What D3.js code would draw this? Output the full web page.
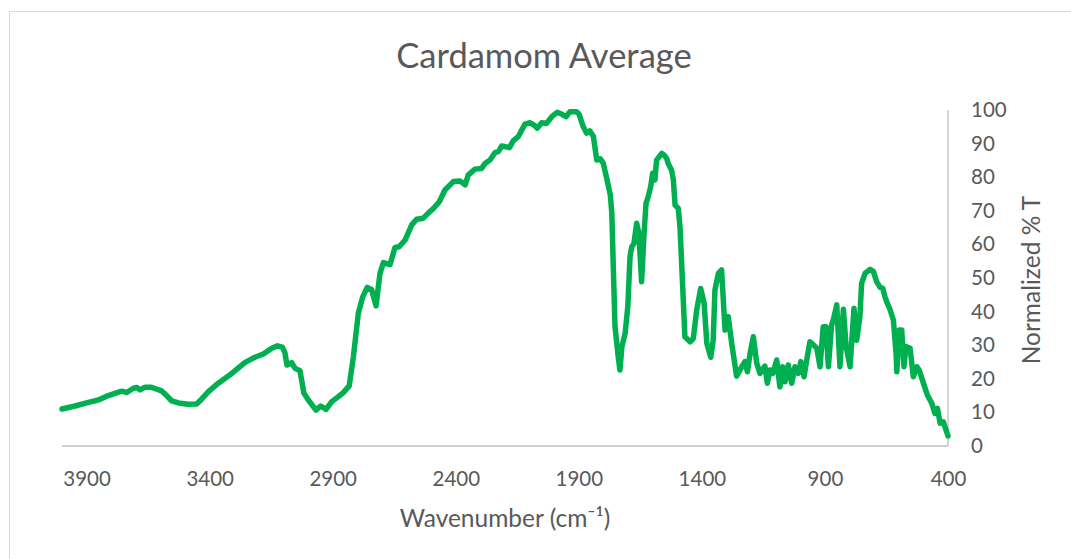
<!DOCTYPE html>
<html>
<head>
<meta charset="utf-8">
<script src="https://cdn.jsdelivr.net/npm/d3@7"></script>
<style>
  body { margin: 0; background: #fff; }
  .chart-text { font-family: Lato, "Open Sans", sans-serif; fill: #595959; }
  .axis-line { stroke: #bfbfbf; stroke-width: 1.3; }
  .spectrum { fill: none; stroke: #00b050; stroke-width: 5.5; stroke-linejoin: round; stroke-linecap: round; }
</style>
</head>
<body>
<div id="chart"></div>
<script>
// Chart title and axis titles
var title = "Cardamom Average";
var xTitle = "Wavenumber (cm\u207B\u00B9)";
var yTitle = "Normalized % T";

// Wavenumber (cm-1)
var wavenumbers = [
  4000, 3947, 3893, 3852, 3812, 3764, 3753, 3737, 3710, 3696, 3683, 3663, 3636, 3615, 3595, 3575,
  3554, 3527, 3487, 3453, 3432, 3405, 3365, 3310, 3256, 3216, 3182, 3148, 3124, 3105, 3094, 3086,
  3067, 3053, 3033, 3017, 2999, 2968, 2949, 2927, 2904, 2877, 2857, 2833, 2816, 2796, 2778, 2760,
  2742, 2724, 2708, 2694, 2667, 2647, 2630, 2606, 2579, 2559, 2532, 2512, 2491, 2467, 2444, 2410,
  2383, 2362, 2349, 2322, 2295, 2281, 2261, 2241, 2227, 2213, 2200, 2182, 2166, 2146, 2119, 2098,
  2082, 2069, 2051, 2031, 2010, 1988, 1970, 1952, 1936, 1910, 1899, 1882, 1868, 1856, 1841, 1827,
  1813, 1801, 1787, 1772, 1766, 1760, 1753, 1740, 1733, 1725, 1712, 1701, 1692, 1685, 1676, 1665,
  1656, 1645, 1635, 1627, 1618, 1608, 1600, 1591, 1584, 1563, 1554, 1543, 1537, 1523, 1516, 1509,
  1496, 1489, 1478, 1469, 1448, 1435, 1421, 1405, 1391, 1380, 1364, 1354, 1347, 1333, 1320, 1313,
  1306, 1293, 1279, 1259, 1238, 1225, 1215, 1204, 1191, 1177, 1164, 1144, 1134, 1123, 1112, 1096,
  1083, 1072, 1062, 1049, 1035, 1022, 1008, 998, 985, 974, 961, 947, 933, 920, 907, 896,
  886, 873, 866, 852, 839, 825, 814, 798, 782, 771, 758, 751, 737, 717, 703, 690,
  676, 665, 656, 647, 636, 622, 611, 608, 598, 588, 579, 571, 554, 541, 527, 517,
  500, 484, 466, 453, 443, 432, 419, 400
];

// Normalized transmittance (%T) at each wavenumber
var transmittance = [
  11.0, 11.9, 13.0, 13.7, 15.0, 16.2, 16.3, 15.9, 17.2, 17.4, 16.7, 17.5, 17.5, 16.9, 16.4, 15.0,
  13.4, 12.8, 12.4, 12.5, 14.0, 16.2, 18.7, 21.6, 24.9, 26.4, 27.4, 29.1, 29.8, 29.4, 27.7, 24.1,
  24.8, 23.1, 22.4, 15.7, 13.7, 10.7, 11.9, 10.9, 13.2, 14.7, 15.9, 17.9, 26.6, 39.5, 44.4, 47.2,
  46.6, 41.7, 51.4, 54.6, 54.0, 59.1, 59.3, 61.3, 65.8, 67.5, 67.8, 69.3, 70.7, 72.7, 76.2, 78.7,
  78.9, 77.7, 80.7, 82.4, 82.6, 84.1, 85.1, 87.3, 87.6, 89.3, 89.1, 88.8, 90.9, 92.1, 95.8, 96.2,
  95.5, 94.6, 96.2, 96.0, 98.0, 99.3, 98.8, 98.0, 99.5, 99.5, 98.8, 95.0, 93.1, 93.8, 92.2, 85.1,
  85.5, 84.2, 79.8, 74.7, 69.3, 53.4, 35.5, 26.6, 22.6, 29.6, 33.5, 41.5, 56.3, 59.3, 60.3, 66.3,
  63.3, 48.9, 63.3, 72.2, 74.2, 77.2, 81.2, 79.2, 85.1, 87.1, 86.6, 85.6, 84.1, 82.1, 79.2, 71.7,
  70.7, 65.3, 47.4, 32.5, 31.0, 32.0, 40.5, 46.9, 42.5, 30.6, 26.4, 31.5, 46.4, 51.4, 52.4, 43.5,
  34.5, 38.5, 30.6, 20.8, 23.6, 25.1, 22.1, 27.6, 32.5, 24.6, 21.6, 23.8, 18.7, 22.6, 21.6, 25.6,
  17.6, 23.6, 19.1, 24.1, 18.7, 23.6, 21.6, 25.1, 20.6, 25.6, 31.0, 30.1, 29.1, 23.6, 35.5, 35.5,
  23.6, 36.0, 37.5, 42.0, 23.6, 40.7, 29.6, 23.6, 41.0, 31.5, 38.5, 48.4, 51.4, 52.6, 51.9, 48.9,
  47.2, 46.9, 44.4, 42.5, 40.7, 37.5, 27.6, 22.1, 34.5, 34.5, 23.6, 29.6, 29.1, 20.6, 23.6, 22.6,
  18.7, 15.2, 12.7, 9.7, 11.2, 6.8, 7.2, 3.0
];

// Axis ranges and tick labels
var xDomain = [4000, 400];
var yDomain = [0, 100];
var xTicks = [3900, 3400, 2900, 2400, 1900, 1400, 900, 400];
var yTicks = [0, 10, 20, 30, 40, 50, 60, 70, 80, 90, 100];

/* Draws the spectrum chart
*/
function drawChart() {
  var width = 1071, height = 559;
  // plot area inside the chart box
  var plot = { left: 62, right: 948, top: 110, bottom: 446 };

  var svg = d3.select("#chart")
    .append("svg")
      .attr("width", width)
      .attr("height", height);

  // Outer chart border
  svg.append("rect")
    .attr("x", 9.5)
    .attr("y", 11.5)
    .attr("width", width + 20)
    .attr("height", height + 20)
    .attr("fill", "#fff")
    .attr("stroke", "#d9d9d9")
    .attr("stroke-width", 1);

  // Scales: wavenumber decreases to the right
  var x = d3.scaleLinear().domain(xDomain).range([plot.left, plot.right]);
  var y = d3.scaleLinear().domain(yDomain).range([plot.bottom, plot.top]);

  // Bottom axis, labels only
  var xAxis = d3.axisBottom(x)
    .tickValues(xTicks)
    .tickFormat(d3.format("d"))
    .tickSize(0)
    .tickPadding(25);
  var gx = svg.append("g")
    .attr("transform", `translate(0, ${plot.bottom})`)
    .call(xAxis);
  gx.select(".domain").attr("class", "axis-line").attr("d", `M${plot.left},0H${plot.right}`);
  gx.selectAll("text")
    .attr("class", "chart-text")
    .style("font-size", "20.5px");

  // Right axis, labels left aligned
  var yAxis = d3.axisRight(y).tickValues(yTicks).tickSize(0).tickPadding(23);
  var gy = svg.append("g")
    .attr("transform", `translate(${plot.right}, 0)`)
    .call(yAxis);
  gy.select(".domain").attr("class", "axis-line").attr("d", `M0,${plot.top}V${plot.bottom}`);
  gy.selectAll("text")
    .attr("class", "chart-text")
    .style("font-size", "20.5px");

  // The spectrum line
  var line = d3.line()
    .x(function(d) { return x(d[0]); })
    .y(function(d) { return y(d[1]); });

  svg.append("path")
    .datum(d3.zip(wavenumbers, transmittance))
    .attr("class", "spectrum")
    .attr("d", line);

  // Chart title
  svg.append("text")
    .attr("class", "chart-text")
    .attr("x", 544)
    .attr("y", 68)
    .attr("text-anchor", "middle")
    .style("font-size", "34.5px")
    .text(title);

  // X axis title
  svg.append("text")
    .attr("class", "chart-text")
    .attr("x", (plot.left + plot.right) / 2)
    .attr("y", 527)
    .attr("text-anchor", "middle")
    .style("font-size", "24.5px")
    .text(xTitle);

  // Y axis title
  svg.append("text")
    .attr("class", "chart-text")
    .attr("transform", "translate(1040, 280) rotate(-90)")
    .attr("text-anchor", "middle")
    .style("font-size", "24.5px")
    .text(yTitle);
}

drawChart();
</script>
</body>
</html>
